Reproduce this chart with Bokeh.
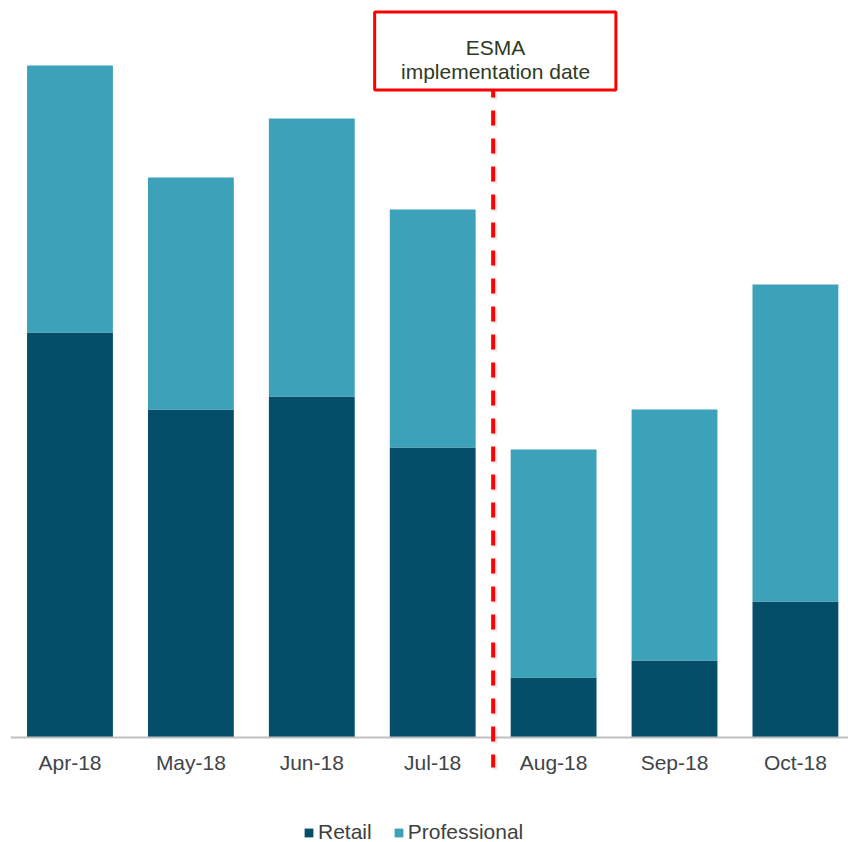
from bokeh.plotting import figure
from bokeh.models import ColumnDataSource, Range1d, LinearAxis, FixedTicker
from bokeh.core.properties import value
from bokeh.embed import file_html
from bokeh.resources import INLINE

months = ["Apr-18", "May-18", "Jun-18", "Jul-18", "Aug-18", "Sep-18", "Oct-18"]
retail = [405, 328, 341, 290, 60, 77, 136]
professional = [267, 232, 278, 238, 228, 251, 317]
series_names = ["Retail", "Professional"]
series_colors = ["#044E69", "#3CA2B9"]

annotation_lines = ["ESMA", "implementation date"]
esma_position = 3.5  # between Jul-18 and Aug-18

FONT = "Liberation Sans"

source = ColumnDataSource(dict(
    x=list(range(len(months))),
    Retail=retail,
    Professional=professional,
))

p = figure(width=848, height=842,
           x_range=Range1d(-0.492, 6.439), y_range=Range1d(-105, 737),
           x_axis_location=None, y_axis_location=None,
           toolbar_location=None, output_backend="svg",
           min_border_left=10, min_border_right=0,
           min_border_top=0, min_border_bottom=0,
           outline_line_color=None, background_fill_color="white",
           border_fill_color="white")
p.grid.grid_line_color = None
p.xgrid.visible = False
p.ygrid.visible = False

p.vbar_stack(series_names, x="x", width=0.71, source=source,
             color=series_colors, line_color=None,
             legend_label=series_names)

xaxis = LinearAxis(fixed_location=0,
                   ticker=FixedTicker(ticks=list(range(len(months)))),
                   major_label_overrides={i: m for i, m in enumerate(months)})
xaxis.axis_line_color = "#BFBFBF"
xaxis.axis_line_width = 2
xaxis.major_tick_line_color = None
xaxis.minor_tick_line_color = None
xaxis.major_tick_out = 0
xaxis.major_tick_in = 0
xaxis.major_label_standoff = 13
xaxis.major_label_text_font = FONT
xaxis.major_label_text_font_size = "21px"
xaxis.major_label_text_color = "#404548"
p.add_layout(xaxis, "below")

# dashed vertical line marking the ESMA implementation date (with faint shadow)
shadow = p.segment(x0=[esma_position + 0.012], y0=[645], x1=[esma_position + 0.012], y1=[-32],
                   line_color="#000000", line_alpha=0.08, line_width=6,
                   line_dash="15 13", line_dash_offset=8)
shadow.level = "annotation"
dash = p.segment(x0=[esma_position], y0=[647], x1=[esma_position], y1=[-30],
                 line_color="#FF0000", line_width=4, line_dash="15 13",
                 line_dash_offset=8)
dash.level = "annotation"

# annotation box
p.quad(left=[esma_position - 0.98], right=[esma_position + 1.015],
       top=[725.5], bottom=[647.5],
       fill_color="white", line_color="#FF0000", line_width=3)
p.text(x=[esma_position + 0.02, esma_position + 0.02], y=[690, 666.3],
       text=annotation_lines, text_align="center", text_baseline="alphabetic",
       text_font=value(FONT), text_font_size="21px", text_color="#2E3A22")

leg = p.legend[0]
leg.location = (293, -2)
leg.orientation = "horizontal"
leg.glyph_width = 11
leg.glyph_height = 11
leg.label_standoff = 4
leg.spacing = 21
leg.padding = 0
leg.margin = 0
leg.border_line_color = None
leg.background_fill_alpha = 0
leg.label_text_font = FONT
leg.label_text_font_size = "21px"
leg.label_text_color = "#404040"

open("out.html", "w").write(file_html(p, INLINE))
